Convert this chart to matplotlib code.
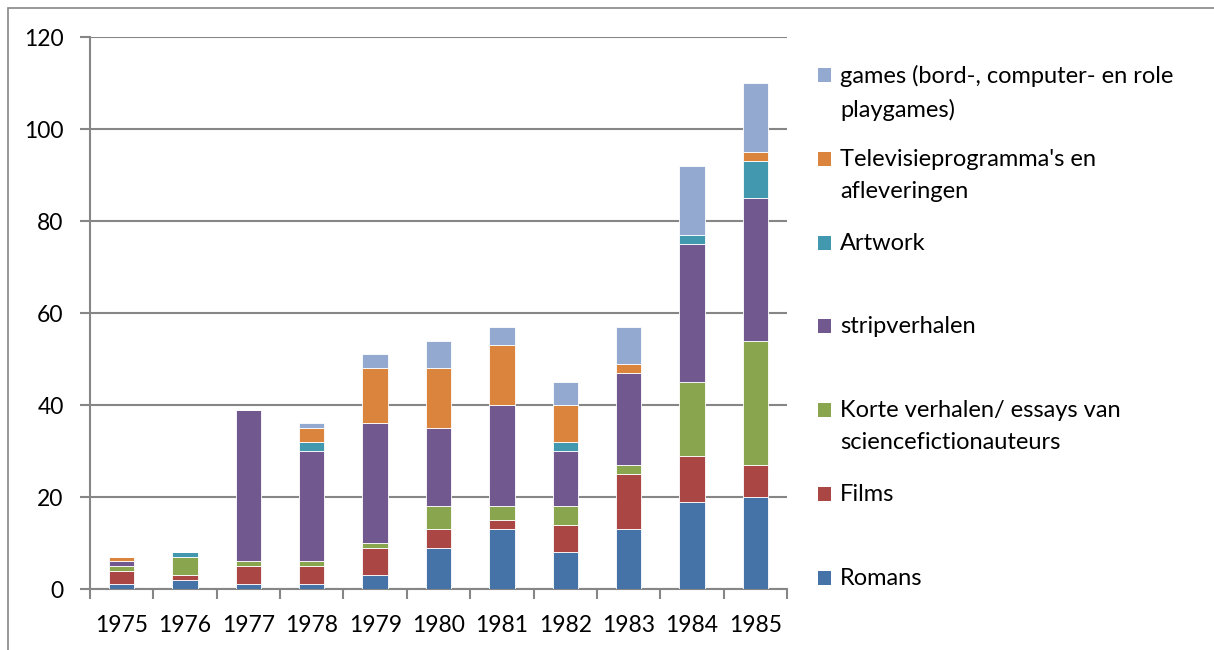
import matplotlib
matplotlib.use("Agg")
import matplotlib.pyplot as plt
import matplotlib.patches as patches
import numpy as np

plt.rcParams['font.family'] = ['Lato', 'DejaVu Sans']

years = ['1975', '1976', '1977', '1978', '1979', '1980', '1981', '1982', '1983', '1984', '1985']

# values per category, bottom to top
romans = [1, 2, 1, 1, 3, 9, 13, 8, 13, 19, 20]
films = [3, 1, 4, 4, 6, 4, 2, 6, 12, 10, 7]
korte = [1, 4, 1, 1, 1, 5, 3, 4, 2, 16, 27]
strip = [1, 0, 33, 24, 26, 17, 22, 12, 20, 30, 31]
artwork = [0, 1, 0, 2, 0, 0, 0, 2, 0, 2, 8]
tv = [1, 0, 0, 3, 12, 13, 13, 8, 2, 0, 2]
games = [0, 0, 0, 1, 3, 6, 4, 5, 8, 15, 15]

series = [romans, films, korte, strip, artwork, tv, games]
labels = ['Romans', 'Films', 'Korte verhalen/ essays van\nsciencefictionauteurs',
          'stripverhalen', 'Artwork', "Televisieprogramma's en\nafleveringen",
          'games (bord-, computer- en role\nplaygames)']
colors = ['#4572A7', '#AA4643', '#89A54E', '#71588F', '#4198AF', '#DB843D', '#93A9CF']

W, H = 1214, 650
fig = plt.figure(figsize=(W / 100, H / 100), dpi=100)
ax = fig.add_axes([90 / W, 1 - 589 / H, (787 - 90) / W, (589 - 37) / H])

x = np.arange(len(years))
bottom = np.zeros(len(years))
for vals, c in zip(series, colors):
    ax.bar(x, vals, width=0.4, bottom=bottom, color=c, edgecolor='white', linewidth=0.6, zorder=3)
    bottom += np.array(vals)

ax.set_xlim(-0.5, len(years) - 0.5)
ax.set_ylim(0, 120)
ax.set_yticks(range(0, 121, 20))
ax.set_xticks(x)
ax.set_xticklabels(years)
ax.set_xticks(np.arange(-0.5, len(years), 1), minor=True)
ax.tick_params(axis='x', which='major', length=0, pad=19, labelsize=16.5)
ax.tick_params(axis='x', which='minor', length=7, width=1.5, color='#868686')
ax.tick_params(axis='y', length=7, width=1.5, color='#868686', pad=12, labelsize=16.5)
ax.yaxis.grid(True, color='#868686', linewidth=1.5, zorder=0)
for s in ['top', 'right']:
    ax.spines[s].set_visible(False)
for s in ['left', 'bottom']:
    ax.spines[s].set_color('#868686')
    ax.spines[s].set_linewidth(1.5)

# outer frame
fig.add_artist(patches.Rectangle((8 / W, -0.1), 1.2, 1 - 8 / H + 0.1, transform=fig.transFigure,
                                 fill=False, edgecolor='#868686', linewidth=1.2))

# legend, top to bottom
for i, (lab, c) in enumerate(zip(labels[::-1], colors[::-1])):
    yc = 75 + i * 83.8
    fig.add_artist(patches.Rectangle((818 / W, 1 - (yc + 7) / H), 13 / W, 14 / H,
                                     transform=fig.transFigure, facecolor=c, edgecolor='none'))
    fig.text(840 / W, 1 - (yc - 10) / H, lab, fontsize=17, va='top', ha='left', linespacing=1.65)

fig.savefig('out.png', dpi=100)
